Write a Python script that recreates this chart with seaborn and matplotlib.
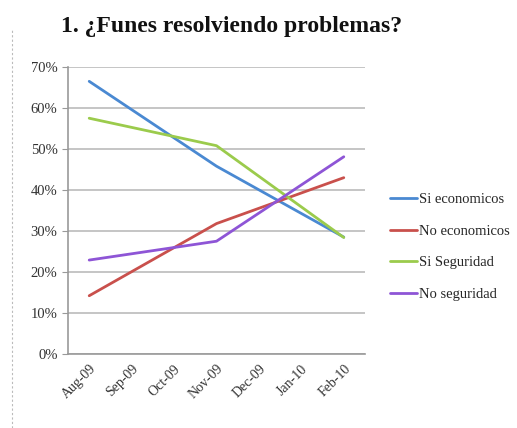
import numpy as np
import pandas as pd
import seaborn as sns
import matplotlib.pyplot as plt
from matplotlib.lines import Line2D

# months on the category axis; survey values only exist for some of them
months = ['Aug-09', 'Sep-09', 'Oct-09', 'Nov-09', 'Dec-09', 'Jan-10', 'Feb-10']
survey_months = ['Aug-09', 'Nov-09', 'Feb-10']

si_economicos = [0.665, 0.458, 0.285]
no_economicos = [0.142, 0.318, 0.430]
si_seguridad = [0.575, 0.508, 0.284]
no_seguridad = [0.229, 0.275, 0.481]

series_names = ['Si economicos', 'No economicos', 'Si Seguridad', 'No seguridad']
series_values = [si_economicos, no_economicos, si_seguridad, no_seguridad]
colors = ['#4A89D2', '#C9504C', '#9BCB4C', '#8E55D6']

rows = []
for name, vals in zip(series_names, series_values):
    for m, v in zip(survey_months, vals):
        rows.append({'Serie': name, 'pos': months.index(m), 'valor': v})
df = pd.DataFrame(rows)

sns.set_style("white")
plt.rcParams['font.family'] = ['Liberation Serif', 'DejaVu Serif']

fig = plt.figure(figsize=(5.17, 4.28), dpi=100)
ax = fig.add_axes([0.1315, 0.173, 0.5745, 0.6705])

sns.lineplot(data=df, x='pos', y='valor', hue='Serie', hue_order=series_names,
             palette=colors, linewidth=2.0, ax=ax, legend=False)

ax.set_xlim(-0.5, len(months) - 0.5)
ax.set_ylim(0, 0.7)
ax.set_yticks(np.arange(0, 0.71, 0.1))
ax.set_yticklabels([f'{int(round(t * 100))}%' for t in np.arange(0, 0.71, 0.1)],
                   fontsize=10.5, color='#333333')
ax.set_xticks(range(len(months)))
ax.set_xticklabels(months, rotation=45, ha='right', rotation_mode='anchor',
                   fontsize=10, color='#333333')
ax.set_xticks(np.arange(-0.5, len(months)), minor=True)
ax.tick_params(axis='x', which='major', length=0, pad=6)
ax.tick_params(axis='x', which='minor', length=4, color='#999999', direction='out')
ax.tick_params(axis='y', length=4, color='#999999', direction='out', left=True)
ax.set_xlabel('')
ax.set_ylabel('')
ax.grid(axis='y', color='#bbbbbb', linewidth=1.2)
ax.set_axisbelow(True)
for s in ['top', 'right']:
    ax.spines[s].set_visible(False)
for s in ['left', 'bottom']:
    ax.spines[s].set_color('#999999')
    ax.spines[s].set_linewidth(1.2)

handles = [Line2D([], [], color=c, linewidth=2.0) for c in colors]
fig.legend(handles, series_names, loc='center left', bbox_to_anchor=(0.728, 0.423),
           frameon=False, fontsize=10.5, handlelength=1.9, handletextpad=0.1,
           labelspacing=1.25)

fig.text(0.447, 0.937, '1. ¿Funes resolviendo problemas?', ha='center', va='center',
         fontsize=17, fontweight='bold', color='#111111')

fig.add_artist(Line2D([0.023, 0.023], [0.0, 0.93], transform=fig.transFigure,
                      color='#bbbbbb', linewidth=0.8, linestyle=(0, (2, 2))))

fig.savefig('out.png', dpi=100)
